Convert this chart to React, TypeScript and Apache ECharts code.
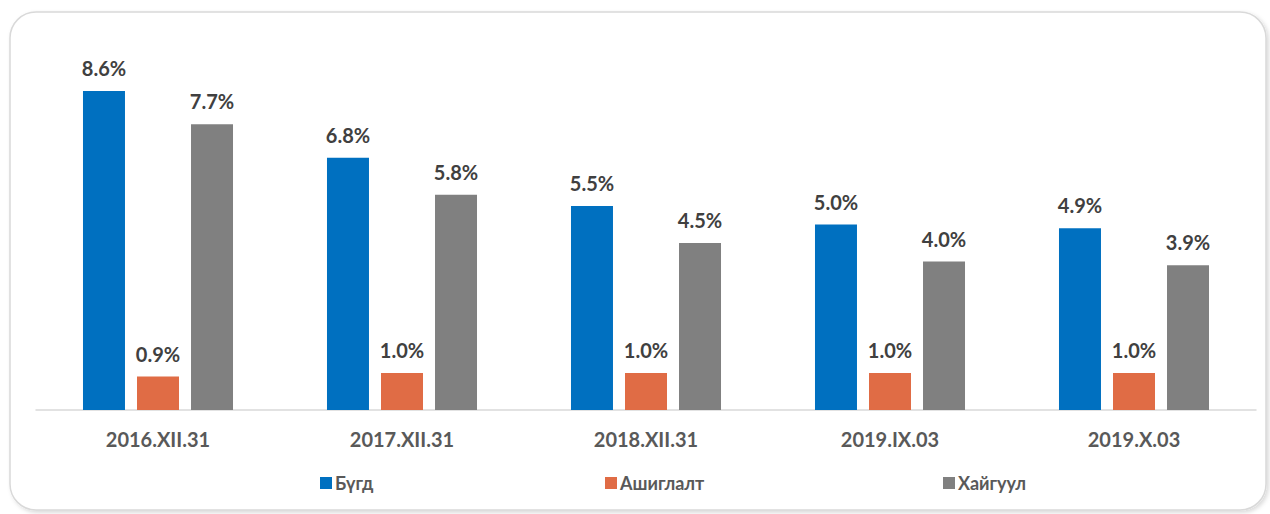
import React, { useEffect, useRef } from "react";
import * as echarts from "echarts";

const categories = ["2016.XII.31", "2017.XII.31", "2018.XII.31", "2019.IX.03", "2019.X.03"];
const seriesNames = ["Бүгд", "Ашиглалт", "Хайгуул"];
const totalValues = [8.6, 6.8, 5.5, 5.0, 4.9];
const exploitationValues = [0.9, 1.0, 1.0, 1.0, 1.0];
const explorationValues = [7.7, 5.8, 4.5, 4.0, 3.9];
const colors = ["#0070C0", "#E06C45", "#808080"];
const legendLefts = [315, 600, 938];

const FONT = "Lato, 'Open Sans', sans-serif";

export default function App() {
  const ref = useRef<HTMLDivElement>(null);
  useEffect(() => {
    if (!ref.current) return;
    const chart = echarts.init(ref.current, null, { renderer: "svg" });
    const values = [totalValues, exploitationValues, explorationValues];
    const label = {
      show: true,
      position: "top",
      distance: 13,
      formatter: (p: any) => Number(p.value).toFixed(1) + "%",
      fontFamily: FONT,
      fontWeight: "bold",
      fontSize: 20,
      color: "#404040",
    };
    chart.setOption({
      animation: false,
      backgroundColor: "#ffffff",
      graphic: [
        {
          type: "rect",
          shape: { x: 10, y: 12, width: 1256, height: 498, r: 26 },
          style: {
            fill: "#ffffff",
            stroke: "#d9d9d9",
            lineWidth: 1.5,
            shadowBlur: 4,
            shadowOffsetX: 2,
            shadowOffsetY: 2,
            shadowColor: "rgba(0,0,0,0.15)",
          },
          z: -10,
          silent: true,
        },
      ],
      legend: seriesNames.map((n, i) => ({
        data: [n],
        left: legendLefts[i],
        top: 469,
        itemWidth: 12,
        itemHeight: 12,
        itemGap: 5,
        icon: "rect",
        textStyle: {
          fontFamily: FONT,
          fontWeight: "bold",
          fontSize: 18,
          color: "#595959",
          padding: [0, 0, 0, -2],
        },
      })),
      grid: { left: 36, right: 14, top: 39, bottom: 104, containLabel: false },
      xAxis: {
        type: "category",
        data: categories,
        axisLine: { show: true, lineStyle: { color: "#d9d9d9", width: 1.5 } },
        axisTick: { show: false },
        axisLabel: {
          margin: 19,
          fontFamily: FONT,
          fontWeight: "bold",
          fontSize: 20,
          color: "#595959",
        },
      },
      yAxis: {
        type: "value",
        min: 0,
        max: 10,
        show: false,
        splitLine: { show: false },
      },
      series: seriesNames.map((n, i) => ({
        name: n,
        type: "bar",
        data: values[i],
        barWidth: 42,
        barGap: "28.6%",
        itemStyle: { color: colors[i] },
        label,
      })),
    });
    return () => chart.dispose();
  }, []);
  return (
    <div
      ref={ref}
      style={{ position: "fixed", left: 0, top: 0, width: 1270, height: 514 }}
    />
  );
}
